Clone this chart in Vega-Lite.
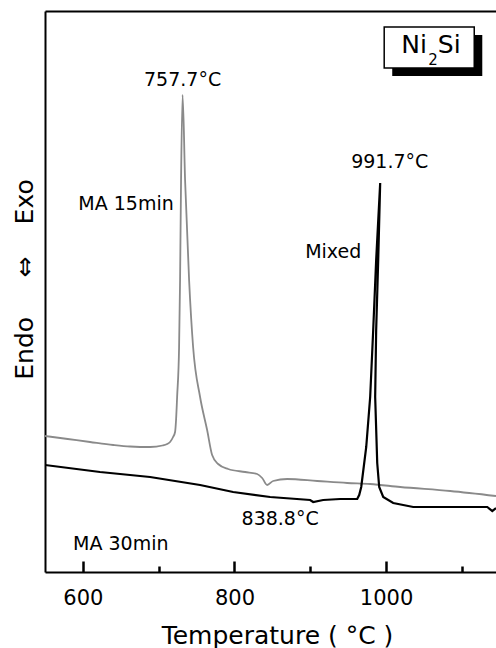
{
  "$schema": "https://vega.github.io/schema/vega-lite/v6.json",
  "width": 451,
  "height": 561,
  "autosize": "none",
  "padding": {"left": 45, "top": 11, "right": 0, "bottom": 76},
  "background": "white",
  "config": {"view": {"stroke": null}, "font": "DejaVu Sans"},
  "datasets": {
    "gray": [
      {"t": 550.0, "v": 136}, {"t": 580.0, "v": 133}, {"t": 609.4, "v": 130}, {"t": 640.0, "v": 127},
      {"t": 662.2, "v": 125.5}, {"t": 688.6, "v": 125}, {"t": 705.0, "v": 126.5},
      {"t": 711.1, "v": 128}, {"t": 715.0, "v": 130}, {"t": 719.0, "v": 135}, {"t": 721.6, "v": 140},
      {"t": 722.9, "v": 152}, {"t": 724.3, "v": 175}, {"t": 726.9, "v": 225}, {"t": 728.2, "v": 292},
      {"t": 729.5, "v": 392}, {"t": 731.5, "v": 477}, {"t": 734.8, "v": 392}, {"t": 740.1, "v": 292},
      {"t": 745.4, "v": 225}, {"t": 754.6, "v": 175}, {"t": 763.9, "v": 142}, {"t": 770.5, "v": 117},
      {"t": 778.4, "v": 108}, {"t": 791.6, "v": 103}, {"t": 814.0, "v": 100}, {"t": 829.9, "v": 98},
      {"t": 836.5, "v": 94}, {"t": 843.1, "v": 87}, {"t": 851.0, "v": 91}, {"t": 869.5, "v": 93},
      {"t": 909.1, "v": 91}, {"t": 948.7, "v": 89}, {"t": 979.0, "v": 88}, {"t": 1018.6, "v": 85},
      {"t": 1084.6, "v": 81}, {"t": 1145.0, "v": 76}
    ],
    "black": [
      {"i": 1, "t": 550.0, "v": 107}, {"i": 2, "t": 622.6, "v": 100}, {"i": 3, "t": 688.6, "v": 95},
      {"i": 4, "t": 754.6, "v": 87}, {"i": 5, "t": 798.2, "v": 80}, {"i": 6, "t": 847.0, "v": 75},
      {"i": 7, "t": 899.8, "v": 72}, {"i": 8, "t": 903.8, "v": 70}, {"i": 9, "t": 917.0, "v": 72},
      {"i": 10, "t": 939.4, "v": 73}, {"i": 11, "t": 961.9, "v": 73}, {"i": 12, "t": 964.5, "v": 77},
      {"i": 13, "t": 967.2, "v": 85}, {"i": 14, "t": 973.8, "v": 125}, {"i": 15, "t": 979.0, "v": 175},
      {"i": 16, "t": 983.0, "v": 242}, {"i": 17, "t": 986.9, "v": 312}, {"i": 18, "t": 992.2, "v": 389},
      {"i": 19, "t": 989.6, "v": 312}, {"i": 20, "t": 986.9, "v": 242}, {"i": 21, "t": 985.6, "v": 175},
      {"i": 22, "t": 988.3, "v": 109}, {"i": 23, "t": 990.9, "v": 85}, {"i": 24, "t": 996.2, "v": 75},
      {"i": 25, "t": 1009.4, "v": 69}, {"i": 26, "t": 1035.8, "v": 65}, {"i": 27, "t": 1084.6, "v": 65},
      {"i": 28, "t": 1133.5, "v": 65}, {"i": 29, "t": 1140.1, "v": 61}, {"i": 30, "t": 1145.0, "v": 64}
    ],
    "labels": [
      {"t": 731.5, "v": 486, "label": "757.7°C"},
      {"t": 1004.8, "v": 404, "label": "991.7°C"},
      {"t": 656.9, "v": 362, "label": "MA 15min"},
      {"t": 930.2, "v": 314, "label": "Mixed"},
      {"t": 860.2, "v": 47, "label": "838.8°C"},
      {"t": 650.0, "v": 22, "label": "MA 30min"}
    ],
    "shadow": [{"t1": 1008.1, "t2": 1126.9, "v1": 537, "v2": 496}],
    "box": [{"t1": 997.5, "t2": 1116.3, "v1": 545, "v2": 504}],
    "formula": [
      {"t": 1020.0, "v": 519, "label": "Ni"},
      {"t": 1068.2, "v": 519, "label": "Si"}
    ],
    "sub": [{"t": 1055.6, "v": 507, "label": "2"}]
  },
  "resolve": {"axis": {"x": "independent", "y": "independent"}},
  "layer": [
    {
      "data": {"name": "gray"},
      "mark": {"type": "line", "color": "#8a8a8a", "strokeWidth": 1.8, "clip": true, "interpolate": "monotone"},
      "encoding": {
        "x": {"field": "t", "type": "quantitative", "scale": {"domain": [550, 1145], "nice": false, "zero": false},
          "axis": {"orient": "bottom", "values": [600, 800, 1000], "format": "d", "tickSize": -11, "tickWidth": 2.5, "tickColor": "black",
            "domain": true, "domainWidth": 2, "domainColor": "black", "labelFontSize": 21, "labelColor": "black", "labelPadding": 26,
            "labelFont": "DejaVu Sans", "grid": false, "title": "Temperature ( °C )", "titleFont": "DejaVu Sans",
            "titleFontSize": 25, "titleFontWeight": "normal", "titleColor": "black", "titleX": 232, "titleY": 71,
            "titleBaseline": "alphabetic", "titleAlign": "center"}},
        "y": {"field": "v", "type": "quantitative", "scale": {"domain": [0, 561], "nice": false, "zero": false},
          "axis": {"orient": "left", "ticks": false, "labels": false, "grid": false, "domainWidth": 2, "domainColor": "black",
            "title": "Endo\u00a0\u00a0\u00a0\u00a0\u00a0⇔\u00a0\u00a0\u00a0\u00a0Exo", "titleFont": "DejaVu Sans", "titleFontSize": 25, "titleFontWeight": "normal",
            "titleColor": "black", "titleX": -13, "titleY": 268, "titleAngle": -90, "titleBaseline": "alphabetic",
            "titleAlign": "center"}}
      }
    },
    {
      "data": {"name": "black"},
      "mark": {"type": "line", "color": "black", "strokeWidth": 2.2, "clip": true},
      "encoding": {
        "x": {"field": "t", "type": "quantitative",
          "axis": {"orient": "bottom", "values": [700, 900, 1100], "tickSize": -6, "tickWidth": 2.5, "tickColor": "black",
            "labels": false, "domain": false, "grid": false, "title": null}},
        "y": {"field": "v", "type": "quantitative", "axis": null},
        "order": {"field": "i", "type": "quantitative"}
      }
    },
    {
      "data": {"name": "shadow"},
      "mark": {"type": "rect", "color": "black"},
      "encoding": {
        "x": {"field": "t1", "type": "quantitative",
          "axis": {"orient": "top", "ticks": false, "labels": false, "grid": false, "domain": true, "domainWidth": 2,
            "domainColor": "black", "title": null}},
        "x2": {"field": "t2"},
        "y": {"field": "v1", "type": "quantitative", "axis": null},
        "y2": {"field": "v2"}
      }
    },
    {
      "data": {"name": "box"},
      "mark": {"type": "rect", "fill": "white", "stroke": "black", "strokeWidth": 1.5},
      "encoding": {
        "x": {"field": "t1", "type": "quantitative", "axis": null},
        "x2": {"field": "t2"},
        "y": {"field": "v1", "type": "quantitative", "axis": null},
        "y2": {"field": "v2"}
      }
    },
    {
      "data": {"name": "formula"},
      "mark": {"type": "text", "font": "DejaVu Sans", "fontSize": 25, "color": "black", "align": "left", "baseline": "alphabetic"},
      "encoding": {
        "x": {"field": "t", "type": "quantitative", "axis": null},
        "y": {"field": "v", "type": "quantitative", "axis": null},
        "text": {"field": "label"}
      }
    },
    {
      "data": {"name": "sub"},
      "mark": {"type": "text", "font": "DejaVu Sans", "fontSize": 15, "color": "black", "align": "left", "baseline": "alphabetic"},
      "encoding": {
        "x": {"field": "t", "type": "quantitative", "axis": null},
        "y": {"field": "v", "type": "quantitative", "axis": null},
        "text": {"field": "label"}
      }
    },
    {
      "data": {"name": "labels"},
      "mark": {"type": "text", "font": "DejaVu Sans", "fontSize": 19, "color": "black", "align": "center", "baseline": "alphabetic"},
      "encoding": {
        "x": {"field": "t", "type": "quantitative", "axis": null},
        "y": {"field": "v", "type": "quantitative", "axis": null},
        "text": {"field": "label"}
      }
    }
  ]
}
